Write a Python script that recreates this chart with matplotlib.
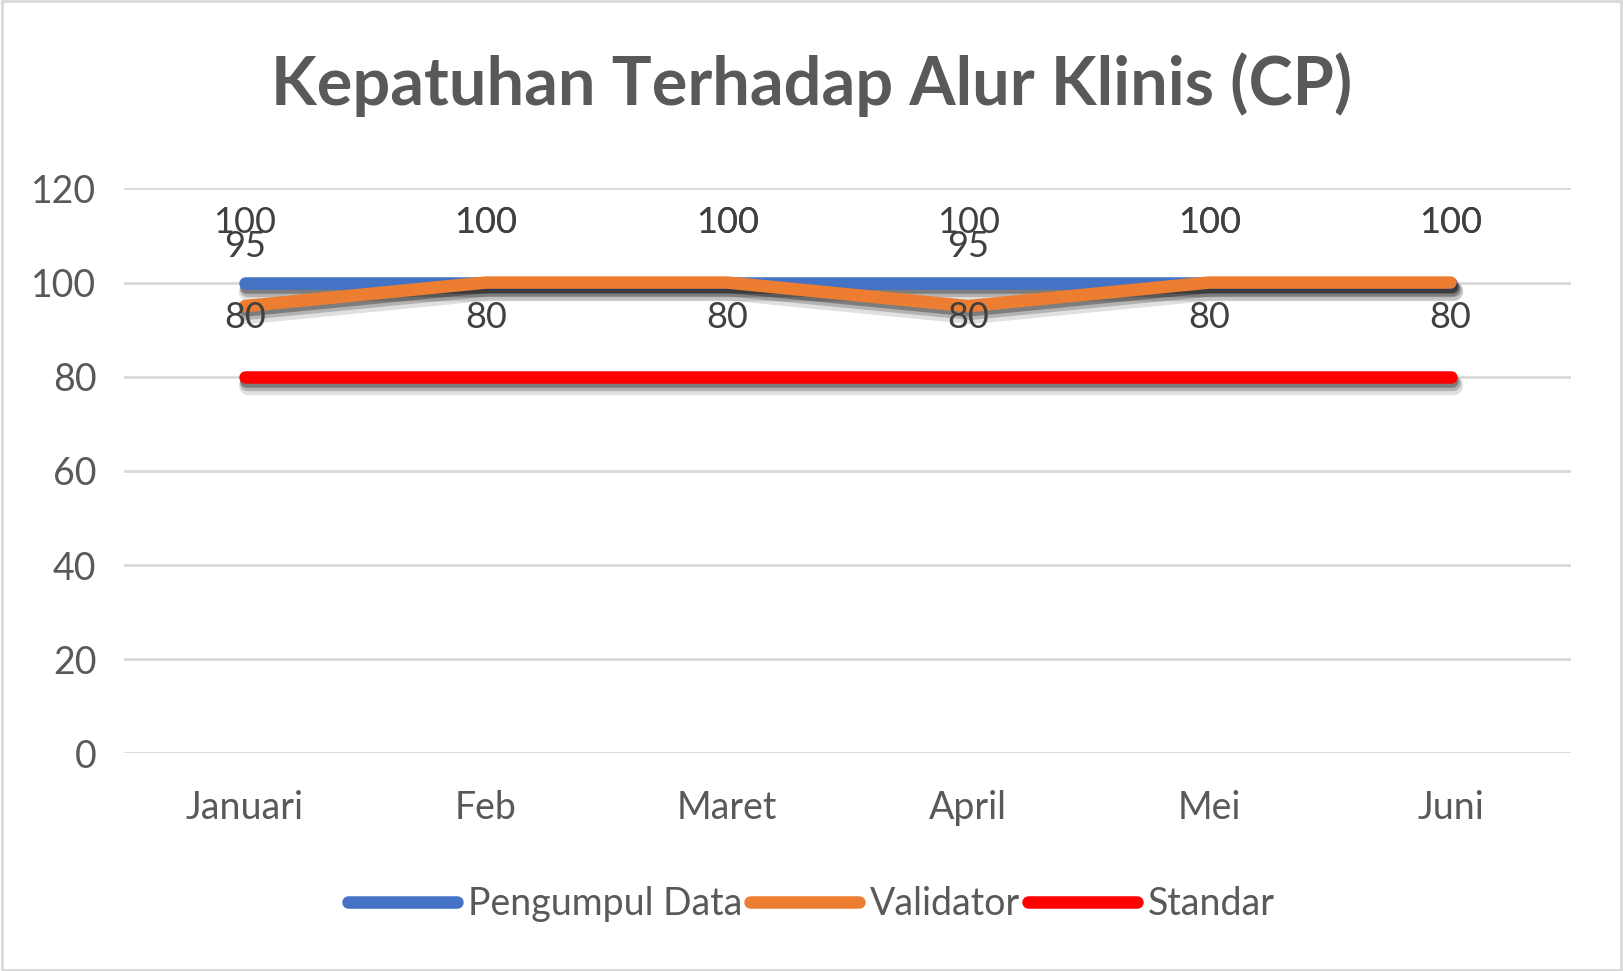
import matplotlib.pyplot as plt
from matplotlib import patheffects as pe

bulan = ['Januari', 'Feb', 'Maret', 'April', 'Mei', 'Juni']
pengumpul_data = [100, 100, 100, 100, 100, 100]
validator = [95, 100, 100, 95, 100, 100]
standar = [80, 80, 80, 80, 80, 80]

plt.rcParams['font.family'] = ['Lato', 'DejaVu Sans']

fig = plt.figure(figsize=(16.23, 9.71), dpi=100)
ax = fig.add_axes([0.0766, 0.224, 0.8914, 0.582])

x = list(range(len(bulan)))
series = [
    ('Pengumpul Data', pengumpul_data, '#4472c4'),
    ('Validator', validator, '#ed7d31'),
    ('Standar', standar, '#ff0000'),
]

# soft drop shadow like the Excel original
shadow = [pe.SimpleLineShadow(offset=(2, -6), shadow_color='k', alpha=0.12, linewidth=14),
          pe.SimpleLineShadow(offset=(1.5, -4.5), shadow_color='k', alpha=0.2, linewidth=11),
          pe.SimpleLineShadow(offset=(1, -3), shadow_color='k', alpha=0.3),
          pe.Normal()]

for name, vals, col in series:
    ax.plot(x, vals, color=col, lw=9, solid_capstyle='round', solid_joinstyle='round',
            label=name, path_effects=shadow, zorder=3)

# data labels, all placed above the points
for name, vals, col in series:
    for xi, v in zip(x, vals):
        ax.annotate(str(v), (xi, v), xytext=(0, 43), textcoords='offset points',
                    ha='center', va='center', fontsize=26, color='#404040', zorder=5)

ax.set_xlim(-0.5, len(bulan) - 0.5)
ax.set_ylim(0, 120)
ax.set_yticks(range(0, 121, 20))
ax.set_xticks(x)
ax.set_xticklabels(bulan)
ax.grid(axis='y', color='#d9d9d9', lw=2)
ax.set_axisbelow(True)
for s in ax.spines.values():
    s.set_visible(False)
ax.tick_params(length=0, labelsize=27, labelcolor='#595959')
ax.tick_params(axis='x', pad=26)
ax.tick_params(axis='y', pad=20)

fig.suptitle('Kepatuhan Terhadap Alur Klinis (CP)', y=0.913, va='center', fontsize=48,
             fontweight='bold', color='#595959')

leg = fig.legend(loc='center', bbox_to_anchor=(0.5, 0.069), ncol=3, frameon=False,
                 fontsize=27, handlelength=2.9, handletextpad=0.3, columnspacing=0.2)
for t in leg.get_texts():
    t.set_color('#595959')
for h in leg.get_lines():
    h.set_path_effects([])

fig.patches.append(plt.Rectangle((0.001, 0.001), 0.998, 0.998, transform=fig.transFigure,
                                 fill=False, edgecolor='#d9d9d9', lw=2))

fig.savefig('out.png', dpi=100)
